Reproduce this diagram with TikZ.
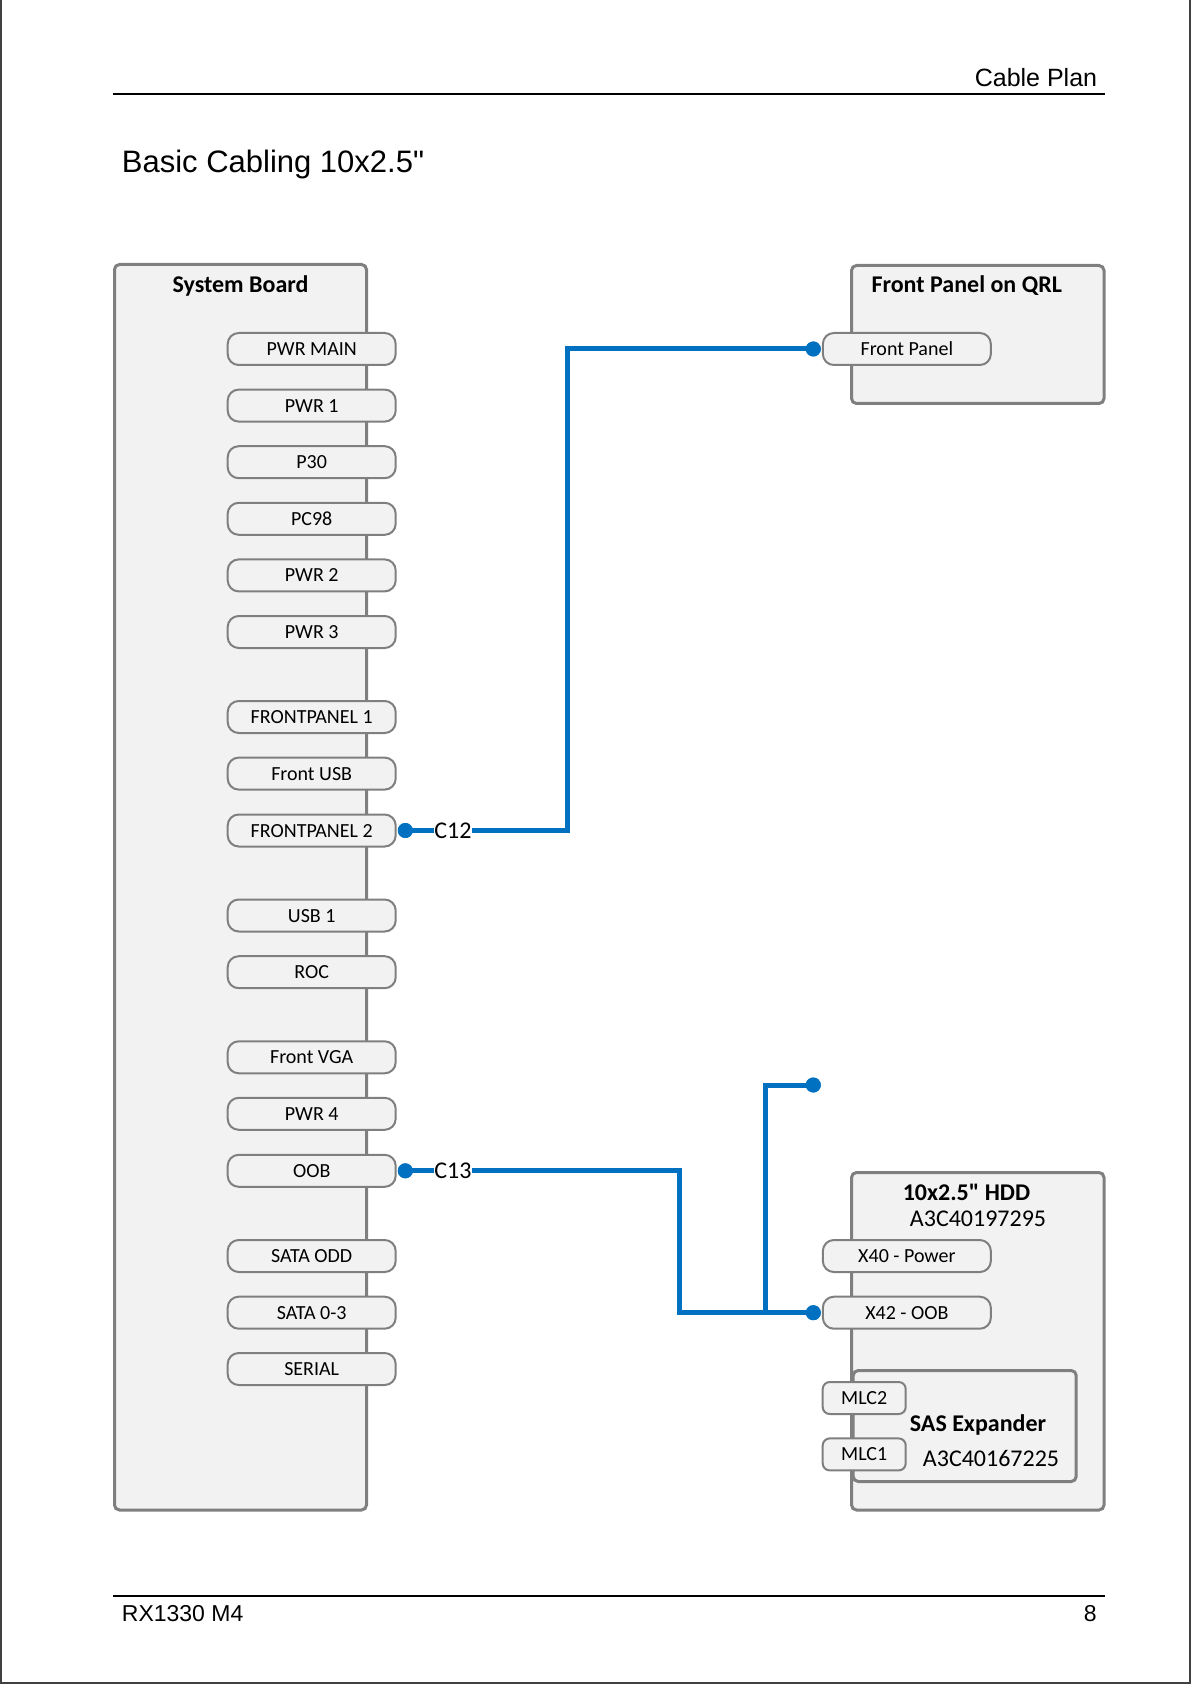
\documentclass[tikz,border=0pt]{standalone}
\usepackage{fontspec}
\newfontfamily\carlito{Carlito}
\newfontfamily\arialfont{Liberation Sans}
\definecolor{cableblue}{HTML}{0070C0}
\definecolor{boxgray}{HTML}{7F7F7F}
\definecolor{boxfill}{HTML}{F2F2F2}
\tikzset{
  box/.style={draw=boxgray, line width=1.5pt, fill=boxfill, rounded corners=2.5pt, inner sep=0pt, outer sep=0pt},
  port/.style={draw=boxgray, line width=1pt, fill=boxfill, rounded corners=5.5pt, minimum width=84pt, minimum height=16pt, inner sep=0pt, outer sep=0pt, font=\carlito\fontsize{10}{12}\selectfont, text height=6.5pt, text depth=0pt},
  smallport/.style={port, minimum width=41.5pt, rounded corners=3.5pt},
  boxtitle/.style={anchor=base, font=\carlito\bfseries\fontsize{12}{14}\selectfont, inner sep=0pt},
  partno/.style={anchor=base, font=\carlito\fontsize{12}{14}\selectfont, inner sep=0pt},
  cable/.style={draw=cableblue, line width=2.5pt},
  cabledot/.style={circle, fill=cableblue, minimum size=7.5pt, inner sep=0pt, outer sep=0pt},
  cablelabel/.style={font=\carlito\fontsize{12}{14}\selectfont, inner sep=0pt, text height=7.7pt, text depth=0pt},
  pagetext/.style={inner sep=0pt, font=\arialfont}
}
\begin{document}
\begin{tikzpicture}[x=0.5pt,y=-0.5pt]
\useasboundingbox (0,0) rectangle (1191,1684);
% page frame
\draw[black!75, line width=0.8pt] (1,0) -- (1,1683) -- (1190,1683) -- (1190,0);
% header and footer
\draw[line width=1pt] (113,94) -- (1105,94);
\node[pagetext, anchor=base east, font=\arialfont\fontsize{12.5}{14}\selectfont] (hdr) at (1097.5,87) {Cable Plan};
\node[pagetext, anchor=base west, font=\arialfont\fontsize{15.5}{18}\selectfont] (ttl) at (121.5,173) {Basic Cabling 10x2.5"};
\draw[line width=0.7pt] (113,1596) -- (1105,1596);
\node[pagetext, anchor=base west, font=\arialfont\fontsize{11.5}{14}\selectfont] (ftl) at (121.5,1621) {RX1330 M4};
\node[pagetext, anchor=base east, font=\arialfont\fontsize{11.5}{14}\selectfont] (ftr) at (1097,1621) {8};

% System board
\node[box, minimum width=126pt, minimum height=622.75pt] (board) at (240.5,887.25) {};
\node[boxtitle] (boardt) at (240.5,292.7) {System Board};
\node[port] (pwrmain) at (311.7,349) {PWR MAIN};
\node[port] (pwr1) at (311.7,405.6) {PWR 1};
\node[port] (p30) at (311.7,462.2) {P30};
\node[port] (pc98) at (311.7,518.8) {PC98};
\node[port] (pwr2) at (311.7,575.4) {PWR 2};
\node[port] (pwr3) at (311.7,632) {PWR 3};
\node[port] (fp1) at (311.7,717) {FRONTPANEL 1};
\node[port] (fusb) at (311.7,773.6) {Front USB};
\node[port] (fp2) at (311.7,830.5) {FRONTPANEL 2};
\node[port] (usb1) at (311.7,915.5) {USB 1};
\node[port] (roc) at (311.7,972.2) {ROC};
\node[port] (fvga) at (311.7,1057.3) {Front VGA};
\node[port] (pwr4) at (311.7,1113.8) {PWR 4};
\node[port] (oob) at (311.7,1170.8) {OOB};
\node[port] (sataodd) at (311.7,1256) {SATA ODD};
\node[port] (sata03) at (311.7,1312.7) {SATA 0-3};
\node[port] (serial) at (311.7,1369) {SERIAL};

% Front panel on QRL
\node[box, minimum width=126.25pt, minimum height=69pt] (qrl) at (977.75,334.5) {};
\node[boxtitle] (qrlt) at (966.7,293) {Front Panel on QRL};
\node[port] (fpanel) at (906.85,349) {Front Panel};

% HDD
\node[box, minimum width=126.25pt, minimum height=168.75pt] (hdd) at (977.75,1341.25) {};
\node[boxtitle] (hddt) at (966.5,1200) {10x2.5" HDD};
\node[partno] (hddn) at (978,1226) {A3C40197295};
\node[box, minimum width=111.5pt, minimum height=55.5pt] (sas) at (964.7,1426) {};
\node[boxtitle] (sast) at (978,1431.7) {SAS Expander};
\node[partno] (sasn) at (991,1466.7) {A3C40167225};
\node[port] (x40) at (906.85,1256) {X40 - Power};
\node[port] (x42) at (906.85,1312.7) {X42 - OOB};
\node[smallport] (mlc2) at (864.2,1398) {MLC2};
\node[smallport] (mlc1) at (864.2,1454.4) {MLC1};

% cables
\node[cablelabel] (c12) at (453,830.5) {C12};
\node[cablelabel] (c13) at (453,1170.8) {C13};
\node[cabledot] (d12a) at (405.3,830.5) {};
\node[cabledot] (d12b) at (813.3,349) {};
\node[cabledot] (d13a) at (405.3,1170.8) {};
\node[cabledot] (d13b) at (813.3,1312.7) {};
\node[cabledot] (d13c) at (813.3,1085) {};
\coordinate (k12) at (567,830.5);
\coordinate (k13) at (679.3,1170.8);
\coordinate (j13) at (765,1312.7);

\draw[cable] (d12a.center) -- (c12.west);
\draw[cable] (c12.east) -- (k12) |- (d12b.center);
\draw[cable] (d13a.center) -- (c13.west);
\draw[cable] (c13.east) -- (k13) |- (d13b.center);
\draw[cable] (j13) |- (d13c.center);
\node[cabledot] at (d12a) {};
\node[cabledot] at (d12b) {};
\node[cabledot] at (d13a) {};
\node[cabledot] at (d13b) {};
\node[cabledot] at (d13c) {};
\end{tikzpicture}
\end{document}
